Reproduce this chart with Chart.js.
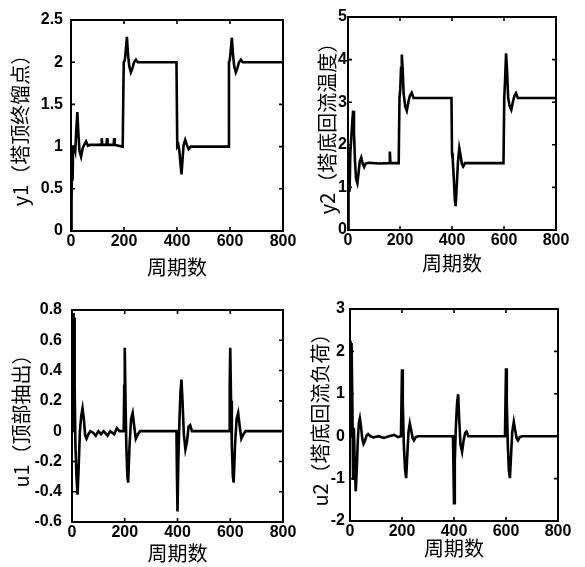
<!DOCTYPE html>
<html><head><meta charset="utf-8">
<script src="https://cdn.jsdelivr.net/npm/chart.js@4"></script>
<style>
html,body{margin:0;padding:0;background:#fff;width:585px;height:567px;overflow:hidden}
.c{position:absolute}
</style></head><body>
<div class="c" style="left:0px;top:0px;width:300px;height:285px"><canvas id="c1"></canvas></div>
<div class="c" style="left:300px;top:0px;width:285px;height:285px"><canvas id="c2"></canvas></div>
<div class="c" style="left:0px;top:290px;width:300px;height:277px"><canvas id="c3"></canvas></div>
<div class="c" style="left:300px;top:290px;width:285px;height:277px"><canvas id="c4"></canvas></div>
<script>
// ---- data ----
const xTicks = [0, 200, 400, 600, 800];
const xTitle = '周期数';

const y1Title = 'y1（塔顶终馏点）';
const y1Ticks = [0, 0.5, 1, 1.5, 2, 2.5];
const y1X = [0,2,4,6,8,12,16,20,24,28,32,38,44,50,57,64,72,114,116,118,134,136,138,161,163,165,195,199,203,207,211,215,220,226,232,238,245,252,398,401,405,409,413,417,421,425,431,437,444,452,593,596,599,603,607,611,616,622,628,634,641,648,800];
const y1Y = [0,0.3,1.0,0.6,1.0,1.0,0.95,1.2,1.41,1.15,0.95,0.88,0.98,1.02,1.06,1.01,1.02,1.02,1.1,1.02,1.02,1.1,1.02,1.02,1.1,1.02,1.0,2.0,2.02,2.15,2.3,2.1,1.95,1.88,1.93,2.0,2.03,2.0,2.0,1.0,1.02,0.95,0.8,0.67,0.85,1.02,1.08,1.02,0.97,1.0,1.0,2.0,2.02,2.15,2.29,2.1,1.95,1.88,1.93,2.0,2.03,2.0,2.0];

const y2Title = 'y2（塔底回流温度）';
const y2Ticks = [0, 1, 2, 3, 4, 5];
const y2X = [0,2,4,6,9,13,17,20,23,27,31,36,40,45,51,57,62,68,80,120,158,161,163,195,198,201,204,207,210,214,220,226,232,238,245,252,398,400,403,407,411,414,418,423,428,433,438,443,450,598,601,604,608,612,616,622,628,634,640,646,653,800];
const y2Y = [0,1.0,1.95,0.9,1.8,2.2,2.6,2.8,2.3,1.6,1.2,1.1,1.3,1.6,1.7,1.55,1.48,1.56,1.58,1.56,1.57,1.84,1.57,1.57,3.1,3.3,3.8,4.12,3.8,3.2,2.9,2.8,3.0,3.15,3.22,3.1,3.1,1.8,1.65,1.2,0.7,0.56,1.0,1.6,1.92,1.75,1.55,1.49,1.57,1.57,3.1,3.5,4.15,3.7,3.1,2.9,2.82,3.0,3.15,3.21,3.1,3.1];

const u1Title = 'u1（顶部抽出）';
const u1Ticks = [-0.6, -0.4, -0.2, 0, 0.2, 0.4, 0.6, 0.8];
const u1X = [0,2,4,6,8,10,13,17,21,25,30,35,40,45,50,55,62,70,80,90,100,110,120,135,145,160,170,180,196,198,200,203,206,210,213,218,224,230,236,242,250,258,396,398,400,403,407,411,415,419,424,430,436,442,448,455,596,598,600,603,606,610,613,618,624,630,636,642,650,658,800];
const u1Y = [0,0.4,0.78,0.1,0.75,0.3,-0.1,-0.3,-0.42,-0.25,0.0,0.1,0.15,0.08,-0.03,-0.05,-0.02,0.0,-0.01,-0.03,0.0,-0.02,0.0,-0.03,0.0,-0.02,0.02,0.0,0.0,0.3,0.55,0.2,-0.1,-0.3,-0.34,-0.1,0.08,0.12,0.03,-0.05,-0.02,0.0,0.0,-0.3,-0.53,-0.2,0.05,0.25,0.34,0.2,-0.02,-0.12,-0.07,0.03,0.04,0.0,0.0,0.3,0.55,0.2,-0.1,-0.3,-0.34,-0.1,0.08,0.12,0.03,-0.05,-0.02,0.0,0.0];

const u2Title = 'u2（塔底回流负荷）';
const u2Ticks = [-2, -1, 0, 1, 2, 3];
const u2X = [0,2,4,6,9,12,15,18,22,26,30,34,38,42,47,52,58,64,70,78,90,110,130,150,170,185,196,198,200,203,207,212,216,220,225,230,235,241,246,253,262,396,398,400,403,407,412,416,420,425,431,437,443,448,455,596,598,600,603,607,611,615,619,624,630,635,641,646,653,662,800];
const u2Y = [0,2.25,0.5,2.2,0.8,-1.0,0.2,-0.6,-1.3,-0.8,-0.1,0.3,0.42,0.25,-0.05,-0.18,-0.1,0.02,0.05,0.0,-0.03,0.0,-0.04,0.0,0.03,-0.02,0.0,0.8,1.58,0.8,-0.2,-0.8,-0.99,-0.5,0.1,0.3,0.15,-0.05,-0.1,-0.02,0.0,0.0,-0.8,-1.58,-0.6,0.2,0.8,0.99,0.4,-0.2,-0.37,-0.1,0.08,0.11,0.0,0.0,0.8,1.6,0.8,-0.2,-0.8,-0.99,-0.5,0.1,0.34,0.15,-0.05,-0.1,-0.02,0.0,0.0];

// ---- drawing ----
const frame = {
  id: 'frame',
  afterDatasetsDraw(chart) {
    const {ctx, chartArea: a, scales: {x, y}} = chart;
    ctx.save();
    ctx.strokeStyle = '#000';
    ctx.lineWidth = 1.6;
    const L = 4;
    ctx.beginPath();
    x.ticks.forEach(t => {
      const p = x.getPixelForValue(t.value);
      ctx.moveTo(p, a.bottom); ctx.lineTo(p, a.bottom - L);
      ctx.moveTo(p, a.top); ctx.lineTo(p, a.top + L);
    });
    y.ticks.forEach(t => {
      const p = y.getPixelForValue(t.value);
      ctx.moveTo(a.left, p); ctx.lineTo(a.left + L, p);
      ctx.moveTo(a.right, p); ctx.lineTo(a.right - L, p);
    });
    ctx.stroke();
    ctx.lineWidth = 2;
    ctx.strokeRect(a.left, a.top, a.right - a.left, a.bottom - a.top);
    ctx.restore();
  }
};

const tickFont = {family: '"Liberation Sans", Arial, sans-serif', weight: 'bold', size: 16};
const cjkFont = {family: '"Noto Sans CJK SC", sans-serif', size: 20};

function make(id, xs, ys, yTicks, yTitle, g) {
  new Chart(document.getElementById(id), {
    type: 'line',
    data: {datasets: [{
      data: xs.map((x, i) => ({x: x, y: ys[i]})),
      borderColor: '#000', borderWidth: 2.6, pointRadius: 0, tension: 0, fill: false
    }]},
    plugins: [frame],
    options: {
      animation: false, responsive: true, maintainAspectRatio: false,
      layout: {padding: {left: 0, top: g.pt, right: g.pr, bottom: 0}},
      plugins: {legend: {display: false}, tooltip: {enabled: false}},
      scales: {
        x: {
          type: 'linear', min: xTicks[0], max: xTicks[xTicks.length - 1],
          afterBuildTicks: s => { s.ticks = xTicks.map(v => ({value: v})); },
          afterFit: s => { s.height = g.xh; },
          grid: {display: false, drawTicks: false}, border: {display: false},
          ticks: {color: '#000', font: tickFont, padding: 1, autoSkip: false, maxRotation: 0,
                  callback: v => String(v)},
          title: {display: true, text: xTitle, color: '#000', font: cjkFont, padding: {top: 0, bottom: g.xtp}}
        },
        y: {
          type: 'linear', min: yTicks[0], max: yTicks[yTicks.length - 1],
          afterBuildTicks: s => { s.ticks = yTicks.map(v => ({value: v})); },
          afterFit: s => { s.width = g.yw; },
          grid: {display: false, drawTicks: false}, border: {display: false},
          ticks: {color: '#000', font: tickFont, padding: g.ytp, autoSkip: false,
                  callback: v => String(Math.round(v * 10) / 10)},
          title: {display: true, text: yTitle, color: '#000', font: cjkFont, padding: {top: g.ttp, bottom: 0}}
        }
      }
    }
  });
}

make('c1', y1X, y1Y, y1Ticks, y1Title, {pt: 20, pr: 17, xh: 54, yw: 71, xtp: 6, ytp: 8, ttp: 8});
make('c2', y2X, y2Y, y2Ticks, y2Title, {pt: 17, pr: 29, xh: 55, yw: 48, xtp: 10, ytp: 1, ttp: 15});
make('c3', u1X, u1Y, u1Ticks, u1Title, {pt: 20, pr: 17, xh: 45, yw: 72, xtp: 2, ytp: 10, ttp: 9});
make('c4', u2X, u2Y, u2Ticks, u2Title, {pt: 19, pr: 27, xh: 46, yw: 50, xtp: 7, ytp: 5, ttp: 8});
</script>
</body></html>
